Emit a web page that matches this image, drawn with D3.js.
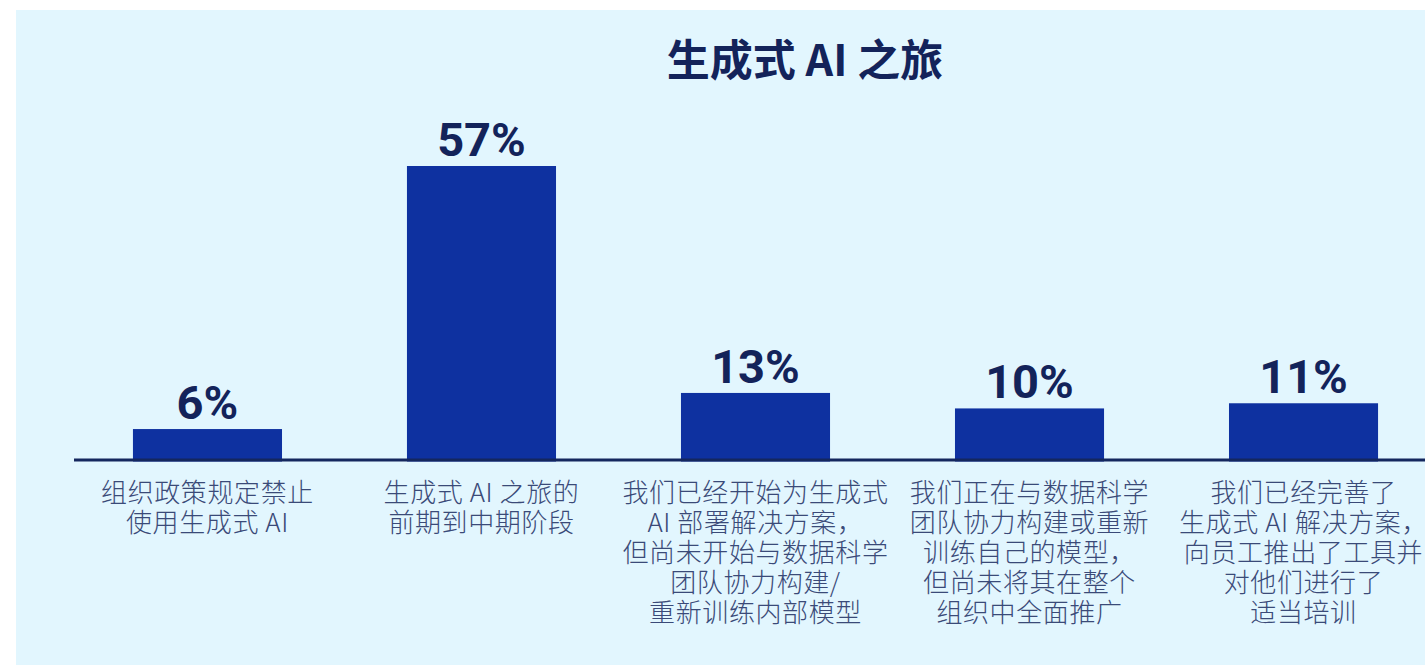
<!DOCTYPE html>
<html><head><meta charset="utf-8">
<script src="https://cdn.jsdelivr.net/npm/d3@7"></script>
<style>
html,body{margin:0;padding:0;background:#fff;}
svg{display:block;}
</style></head>
<body>
<svg id="chart" width="1425" height="665"></svg>
<script>
const title = "生成式 AI 之旅";
const categories = [
  ["组织政策规定禁止", "使用生成式 AI"],
  ["生成式 AI 之旅的", "前期到中期阶段"],
  ["我们已经开始为生成式", "AI 部署解决方案，", "但尚未开始与数据科学", "团队协力构建/", "重新训练内部模型"],
  ["我们正在与数据科学", "团队协力构建或重新", "训练自己的模型，", "但尚未将其在整个", "组织中全面推广"],
  ["我们已经完善了", "生成式 AI 解决方案，", "向员工推出了工具并", "对他们进行了", "适当培训"]
];
const values = [6, 57, 13, 10, 11];
const valueLabels = ["6%", "57%", "13%", "10%", "11%"];

const svg = d3.select("#chart");
svg.append("rect").attr("x", 16).attr("y", 10).attr("width", 1425 - 16).attr("height", 665 - 10).attr("fill", "#e2f6fe");

svg.append("text").attr("x", 805).attr("y", 76).attr("text-anchor", "middle")
  .attr("font-family", "'Noto Sans CJK SC', sans-serif").attr("font-weight", 700)
  .attr("font-size", 43).attr("fill", "#13235a").text(title);

const idx = d3.range(values.length);
const x = d3.scaleBand().domain(idx).range([8, 1503]).paddingInner(0.456).paddingOuter(0.456);
const y = d3.scaleLinear().domain([0, 57]).range([460, 166]);

const g = svg.append("g");
g.selectAll("rect.bar").data(idx).join("rect").attr("class", "bar")
  .attr("x", i => x(i)).attr("width", x.bandwidth())
  .attr("y", i => y(values[i])).attr("height", i => y(0) - y(values[i]) + 1.5)
  .attr("fill", "#0e31a0");

const axis = d3.axisBottom(x).tickSize(0).tickFormat("");
const ag = svg.append("g").attr("transform", `translate(0,${y(0)})`).call(axis);
ag.select(".domain").remove();
ag.append("line").attr("x1", 74).attr("x2", 1425).attr("y1", 0).attr("y2", 0)
  .attr("stroke", "#14275e").attr("stroke-width", 3);

g.selectAll("text.val").data(idx).join("text").attr("class", "val")
  .attr("x", i => x(i) + x.bandwidth() / 2).attr("y", i => y(values[i]) - 10)
  .attr("text-anchor", "middle").attr("font-family", "Roboto, sans-serif")
  .attr("font-weight", 700).attr("font-size", 47).attr("fill", "#13235a")
  .text(i => valueLabels[i]);

const lab = g.selectAll("text.cat").data(idx).join("text").attr("class", "cat")
  .attr("text-anchor", "middle").attr("font-family", "'Noto Sans CJK SC', sans-serif")
  .attr("font-weight", 300)
  .attr("font-size", 26).attr("letter-spacing", 0.6).attr("fill", "#3a4a78");
lab.each(function(i) {
  const t = d3.select(this);
  categories[i].forEach((line, k) => {
    t.append("tspan").attr("x", x(i) + x.bandwidth() / 2).attr("y", 502 + k * 30).text(line);
  });
});
</script>
</body></html>
